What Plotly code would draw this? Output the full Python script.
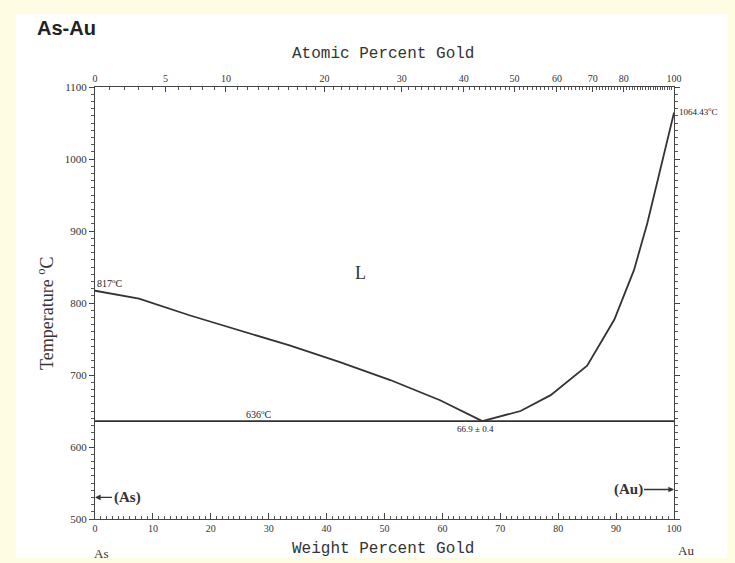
import plotly.graph_objects as go

# Atomic masses for the atomic-percent scale
M_AS, M_AU = 74.9216, 196.96657

# Liquidus, As side (wt.% Au, deg C)
left_wt = [0, 7.6, 16.3, 25, 33.6, 42.3, 51, 59.6, 66.9]
left_T = [817, 806, 783, 762, 741, 718, 693, 665, 636]
# Liquidus, Au side
right_wt = [66.9, 73.5, 78.7, 85.0, 89.7, 93.1, 95.4, 97.7, 99.8, 100]
right_T = [636, 650, 672, 713, 777, 846, 911, 989, 1061, 1064.43]
# Eutectic isotherm
eut_wt = [0, 100]
eut_T = [636, 636]

wt_ticks = [0, 10, 20, 30, 40, 50, 60, 70, 80, 90, 100]
T_ticks = [500, 600, 700, 800, 900, 1000, 1100]
at_labels = [0, 5, 10, 20, 30, 40, 50, 60, 70, 80, 100]
at_minor = list(range(0, 101))


def at_to_wt(a):
    if a <= 0:
        return 0.0
    return 100.0 * a * M_AU / (a * M_AU + (100 - a) * M_AS)


LINE = "#333333"
TXT = "#333333"
SERIF = "Liberation Serif"
MONO = "Liberation Mono"
BG = "#fefde3"

fig = go.Figure()
fig.add_trace(go.Scatter(x=left_wt, y=left_T, mode="lines",
                         line=dict(color=LINE, width=1.8), hoverinfo="skip"))
fig.add_trace(go.Scatter(x=right_wt, y=right_T, mode="lines",
                         line=dict(color=LINE, width=1.8), hoverinfo="skip"))
fig.add_trace(go.Scatter(x=eut_wt, y=eut_T, mode="lines", xaxis="x2",
                         line=dict(color=LINE, width=1.8), hoverinfo="skip"))

fig.update_layout(
    width=735, height=563,
    margin=dict(l=95, r=61, t=87, b=44),
    paper_bgcolor=BG,
    plot_bgcolor="white",
    showlegend=False,
    xaxis=dict(range=[0, 100], tickvals=wt_ticks, ticks="inside", ticklen=6,
               tickcolor="#444", showline=True, linecolor="#444", linewidth=1,
               showgrid=False, zeroline=False,
               tickfont=dict(family=SERIF, size=10, color=TXT),
               minor=dict(dtick=1, ticks="inside", ticklen=3, tickcolor="#555")),
    xaxis2=dict(range=[0, 100], overlaying="x", side="top", anchor="y",
                tickvals=[at_to_wt(a) for a in at_labels],
                ticktext=[str(a) for a in at_labels],
                ticks="inside", ticklen=5, tickcolor="#444",
                showline=True, linecolor="#444", linewidth=1,
                showgrid=False, zeroline=False,
                tickfont=dict(family=SERIF, size=10, color=TXT),
                minor=dict(tickvals=[at_to_wt(a) for a in at_minor],
                           ticks="inside", ticklen=3, tickcolor="#555")),
    yaxis=dict(range=[500, 1100], tickvals=T_ticks, ticks="outside", ticklen=5,
               tickcolor="#444", showline=True, linecolor="#444", linewidth=1,
               mirror="ticks", showgrid=False, zeroline=False,
               tickfont=dict(family=SERIF, size=11, color=TXT),
               minor=dict(dtick=10, ticks="outside", ticklen=3, tickcolor="#555")),
    shapes=[dict(type="rect", xref="paper", yref="paper",
                 x0=-0.137, x1=1.092, y0=-0.09, y1=1.169,
                 fillcolor="white", line=dict(width=0), layer="below")],
)

ann = []
ann.append(dict(text="<b>As-Au</b>", xref="paper", yref="paper", x=-0.104, y=1.137,
                xanchor="left", yanchor="middle", showarrow=False,
                font=dict(family="Liberation Sans", size=20, color="#222")))
ann.append(dict(text="Atomic Percent Gold", xref="paper", yref="paper", x=0.497, y=1.0,
                yshift=33, xanchor="center", yanchor="middle", showarrow=False,
                font=dict(family=MONO, size=16, color=TXT)))
ann.append(dict(text="Weight Percent Gold", xref="paper", yref="paper", x=0.497, y=0.0,
                yshift=-30, xanchor="center", yanchor="middle", showarrow=False,
                font=dict(family=MONO, size=16, color=TXT)))
ann.append(dict(text="Temperature <sup>o</sup>C", xref="paper", yref="paper",
                x=0.0, xshift=-50, y=0.5, yshift=-10, textangle=-90,
                xanchor="center", yanchor="middle", showarrow=False,
                font=dict(family=SERIF, size=18, color=TXT)))
ann.append(dict(text="As", xref="x", yref="paper", x=0, xshift=6, y=0.0, yshift=-34,
                xanchor="center", yanchor="middle", showarrow=False,
                font=dict(family=SERIF, size=13, color=TXT)))
ann.append(dict(text="Au", xref="x", yref="paper", x=100, xshift=12, y=0.0, yshift=-31,
                xanchor="center", yanchor="middle", showarrow=False,
                font=dict(family=SERIF, size=13, color=TXT)))
ann.append(dict(text="L", x=45.8, y=842, showarrow=False,
                font=dict(family=SERIF, size=18, color=TXT)))
ann.append(dict(text="817<sup>o</sup>C", x=0, y=left_T[0], xanchor="left",
                yanchor="bottom", xshift=0, yshift=0, showarrow=False,
                font=dict(family=SERIF, size=10, color="#222")))
ann.append(dict(text="1064.43<sup>o</sup>C", x=100, y=right_T[-1], xanchor="left",
                yanchor="middle", xshift=3, yshift=2, showarrow=False,
                font=dict(family=SERIF, size=9, color="#222")))
ann.append(dict(text="636<sup>o</sup>C", x=28.3, y=eut_T[0], xanchor="center",
                yanchor="bottom", yshift=-1, showarrow=False,
                font=dict(family=SERIF, size=10, color="#222")))
ann.append(dict(text="66.9 ± 0.4", x=65.8, y=eut_T[0], xanchor="center",
                yanchor="top", yshift=-1, showarrow=False,
                font=dict(family=SERIF, size=9, color="#222")))
ann.append(dict(text="<b>(As)</b>", x=0, y=530, ax=32, ay=0, showarrow=True,
                arrowhead=2, arrowsize=0.8, arrowwidth=1.4, arrowcolor="#333",
                font=dict(family=SERIF, size=15, color="#333")))
ann.append(dict(text="<b>(Au)</b>", x=100, y=541, ax=-46, ay=0, showarrow=True,
                arrowhead=2, arrowsize=0.8, arrowwidth=1.4, arrowcolor="#333",
                font=dict(family=SERIF, size=15, color="#333")))
fig.update_layout(annotations=ann)

fig.write_html(
    "out.html",
    config={"displayModeBar": False},
    post_script="document.body.style.margin='0';"
                "document.body.style.background='" + BG + "';",
)
